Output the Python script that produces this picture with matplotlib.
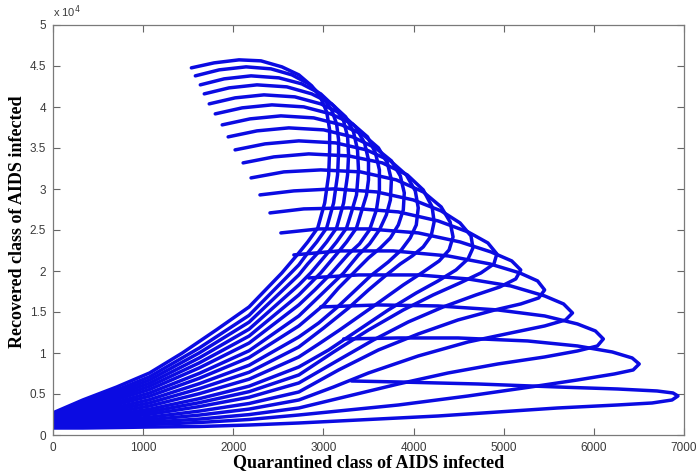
import matplotlib
matplotlib.use("Agg")
import matplotlib.pyplot as plt
from matplotlib.ticker import FuncFormatter

# Quarantined (x) and Recovered (y) values along each trajectory
q01 = [1535, 1788, 2064, 2307, 2539, 2727, 2870, 2970, 3036, 3069, 3069, 3058, 3014, 2937, 2826, 2727, 2539, 2175, 1811, 1435, 1071, 707, 331, 0]
r01 = [44774, 45384, 45750, 45628, 44896, 43920, 42578, 41114, 39406, 37210, 34770, 31720, 28304, 25254, 23546, 22204, 19764, 15616, 12810, 10004, 7564, 5856, 4270, 2700]
q02 = [1579, 1844, 2142, 2418, 2650, 2837, 2981, 3091, 3146, 3168, 3168, 3157, 3113, 3036, 2926, 2826, 2727, 2175, 1623, 1071, 740, 331, 0]
r02 = [43798, 44530, 44896, 44652, 43920, 42822, 41358, 39650, 37942, 35990, 34526, 31720, 28304, 25254, 23546, 22204, 20740, 14591, 10614, 7100, 5624, 4026, 2550]
q03 = [1634, 1899, 2197, 2506, 2760, 2970, 3124, 3224, 3268, 3279, 3268, 3224, 3146, 3036, 2937, 2826, 2727, 2175, 1623, 1071, 740, 331, 0]
r03 = [42700, 43432, 43798, 43554, 42822, 41602, 40016, 38308, 36356, 34160, 31720, 28304, 25254, 23546, 22204, 20862, 19520, 13762, 10016, 6710, 5319, 3831, 2452]
q04 = [1678, 1954, 2263, 2594, 2870, 3091, 3246, 3334, 3378, 3389, 3367, 3312, 3257, 3146, 3047, 2859, 2727, 2175, 1623, 1071, 740, 331, 0]
r04 = [41602, 42334, 42700, 42456, 41602, 40382, 38796, 36966, 34770, 32330, 29280, 27206, 25254, 23546, 22204, 19764, 18300, 12908, 9406, 6320, 5026, 3623, 2342]
q05 = [1733, 2020, 2340, 2683, 2970, 3202, 3356, 3456, 3500, 3500, 3478, 3444, 3367, 3257, 3157, 2970, 2727, 2175, 1623, 1071, 740, 331, 0]
r05 = [40382, 41114, 41480, 41236, 40382, 39162, 37576, 35624, 33550, 31110, 29280, 28060, 25254, 23546, 22204, 19764, 17080, 12066, 8796, 5941, 4721, 3428, 2233]
q06 = [1800, 2098, 2429, 2782, 3080, 3323, 3489, 3577, 3621, 3621, 3588, 3511, 3400, 3279, 3091, 2904, 2727, 2175, 1623, 1071, 740, 331, 0]
r06 = [39162, 39894, 40260, 40016, 39162, 37942, 36356, 34404, 32330, 29890, 27450, 25010, 23302, 22082, 19764, 17690, 15860, 11212, 8186, 5551, 4429, 3221, 2123]
q07 = [1877, 2186, 2528, 2892, 3202, 3444, 3610, 3709, 3754, 3743, 3698, 3621, 3511, 3389, 3224, 2970, 2727, 2175, 1623, 1071, 740, 331, 0]
r07 = [37820, 38552, 38918, 38674, 37820, 36600, 35014, 33184, 31110, 28670, 26840, 25010, 23302, 21960, 19764, 17080, 14518, 10272, 7515, 5124, 4099, 3001, 2001]
q08 = [1943, 2263, 2616, 3003, 3323, 3577, 3754, 3853, 3897, 3886, 3831, 3743, 3632, 3500, 3367, 3168, 3003, 2727, 2175, 1623, 1071, 740, 331, 0]
r08 = [36356, 37088, 37454, 37210, 36356, 35014, 33428, 31598, 29524, 27450, 25620, 24034, 22814, 21594, 20130, 17934, 15860, 13298, 9443, 6917, 4734, 3806, 2806, 1903]
q09 = [2020, 2352, 2727, 3135, 3478, 3743, 3919, 4019, 4052, 4030, 3963, 3864, 3720, 3522, 3334, 3157, 2948, 2727, 2175, 1623, 1071, 740, 331, 0]
r09 = [34770, 35502, 35868, 35624, 34770, 33428, 31720, 29768, 27694, 25620, 24034, 22570, 21106, 19398, 17446, 15616, 13664, 11956, 8503, 6259, 4307, 3477, 2586, 1781]
q10 = [2109, 2451, 2837, 3279, 3654, 3930, 4107, 4206, 4228, 4195, 4107, 3985, 3853, 3698, 3500, 3279, 3003, 2727, 2175, 1623, 1071, 740, 331, 0]
r10 = [33184, 33916, 34282, 34038, 33184, 31720, 29890, 27816, 25986, 24278, 22936, 21838, 20862, 19520, 17690, 15494, 13054, 10736, 7649, 5649, 3916, 3184, 2379, 1671]
q11 = [2197, 2561, 2970, 3411, 3809, 4107, 4306, 4405, 4438, 4394, 4284, 4107, 3886, 3544, 3180, 2948, 2727, 2175, 1623, 1071, 740, 331, 0]
r11 = [31354, 32086, 32330, 32086, 31110, 29646, 27816, 25986, 24156, 22570, 21228, 19886, 18300, 15616, 12810, 11102, 9516, 6808, 5039, 3538, 2879, 2184, 1562]
q12 = [2296, 2672, 3113, 3588, 3996, 4306, 4515, 4637, 4659, 4604, 4471, 4272, 4030, 3720, 3389, 3058, 2727, 2175, 1623, 1071, 740, 331, 0]
r12 = [29280, 29768, 30012, 29646, 28670, 27328, 25864, 24278, 22814, 21472, 20130, 18788, 17324, 15250, 12810, 10370, 8296, 5954, 4429, 3148, 2586, 1976, 1452]
q13 = [2407, 2782, 3279, 3831, 4272, 4604, 4824, 4924, 4891, 4747, 4515, 4217, 3886, 3500, 3113, 2727, 2175, 1623, 1071, 740, 331, 0]
r13 = [27084, 27572, 27694, 27206, 26108, 24766, 23424, 22082, 20862, 19764, 18544, 17080, 15250, 12810, 10126, 7320, 5283, 3941, 2830, 2342, 1818, 1366]
q14 = [2528, 2948, 3500, 4052, 4515, 4858, 5089, 5189, 5134, 4957, 4692, 4328, 3941, 3555, 3168, 2727, 2175, 1623, 1071, 740, 331, 0]
r14 = [24644, 25132, 25132, 24644, 23546, 22326, 21228, 20130, 19032, 18056, 17080, 15616, 13786, 11590, 9150, 6344, 4599, 3465, 2525, 2111, 1659, 1281]
q15 = [2672, 3168, 3776, 4383, 4847, 5178, 5376, 5454, 5388, 5189, 4902, 4493, 4052, 3610, 3168, 2727, 2175, 1623, 1071, 740, 331, 0]
r15 = [21960, 22448, 22448, 21838, 20862, 19764, 18788, 17690, 16714, 15982, 15250, 14030, 12322, 10370, 7930, 5246, 3843, 2916, 2172, 1842, 1476, 1183]
q16 = [2837, 3389, 4052, 4604, 5078, 5454, 5664, 5763, 5686, 5454, 5078, 4604, 4052, 3500, 3113, 2727, 2175, 1623, 1071, 740, 331, 0]
r16 = [19154, 19520, 19520, 19032, 18178, 16958, 15982, 14884, 14030, 13298, 12444, 11346, 9638, 7564, 5856, 4270, 3160, 2428, 1867, 1598, 1318, 1098]
q17 = [2970, 3610, 4272, 4935, 5454, 5818, 6017, 6105, 6039, 5818, 5454, 4935, 4383, 3831, 3279, 2727, 2175, 1623, 1071, 740, 331, 0]
r17 = [15616, 15860, 15738, 15250, 14518, 13542, 12688, 11712, 10858, 10248, 9516, 8662, 7564, 6222, 4758, 3294, 2489, 1940, 1562, 1366, 1159, 1013]
q18 = [3224, 3831, 4493, 5266, 5818, 6204, 6425, 6503, 6436, 6227, 5818, 5299, 4604, 3831, 3279, 2727, 2175, 1623, 1071, 740, 331, 0]
r18 = [11712, 11834, 11834, 11468, 10858, 10126, 9394, 8662, 7930, 7442, 6710, 5856, 4758, 3660, 3050, 2440, 1891, 1525, 1281, 1159, 1013, 939]
q19 = [3312, 3831, 4714, 5597, 6260, 6701, 6878, 6933, 6867, 6646, 6260, 5597, 4935, 4272, 3610, 2727, 2175, 1623, 1071, 740, 331, 0]
r19 = [6588, 6466, 6222, 5856, 5612, 5368, 5124, 4758, 4270, 3904, 3660, 3294, 2806, 2318, 1952, 1464, 1220, 1037, 976, 915, 854, 854]

x_ticks = [0, 1000, 2000, 3000, 4000, 5000, 6000, 7000]
y_ticks = [0, 5000, 10000, 15000, 20000, 25000, 30000, 35000, 40000, 45000, 50000]
x_label = "Quarantined class of AIDS infected"
y_label = "Recovered class of AIDS infected"

trajectories = [(q01, r01), (q02, r02), (q03, r03), (q04, r04), (q05, r05),
                (q06, r06), (q07, r07), (q08, r08), (q09, r09), (q10, r10),
                (q11, r11), (q12, r12), (q13, r13), (q14, r14), (q15, r15),
                (q16, r16), (q17, r17), (q18, r18), (q19, r19)]

fig = plt.figure(figsize=(6.96, 4.75), dpi=100)
ax = fig.add_axes([53/696, 40/475, 631/696, 410/475])

for qx, ry in trajectories:
    ax.plot(qx, ry, color="#0b0be2", lw=2.5, solid_joinstyle="round",
            solid_capstyle="round")

ax.set_xlim(0, 7000)
ax.set_ylim(0, 50000)
ax.set_xticks(x_ticks)
ax.set_yticks(y_ticks)
ax.xaxis.set_major_formatter(FuncFormatter(lambda v, p: "%g" % v))
ax.yaxis.set_major_formatter(FuncFormatter(lambda v, p: "%g" % (v / 1e4)))
ax.tick_params(direction="in", length=5, width=0.8, top=True, right=True,
               labelsize=8.5, colors="#666666", labelcolor="#3a3a3a", pad=5)
for lab in ax.get_xticklabels() + ax.get_yticklabels():
    lab.set_family(["Liberation Sans", "DejaVu Sans"])
for s in ax.spines.values():
    s.set_color("#7a7a7a")
    s.set_linewidth(0.9)

ax.text(0.0, 1.012, r"x 10$^{4}$", transform=ax.transAxes, fontsize=8,
        color="#3a3a3a", family=["Liberation Sans", "DejaVu Sans"],
        ha="left", va="bottom")

ax.set_xlabel(x_label, fontsize=13, fontweight="bold",
              family=["Liberation Serif", "DejaVu Serif"], labelpad=0)
ax.set_ylabel(y_label, fontsize=13, fontweight="bold",
              family=["Liberation Serif", "DejaVu Serif"])
ax.yaxis.set_label_coords(-0.042, 0.52)

fig.savefig("out.png", dpi=100)
